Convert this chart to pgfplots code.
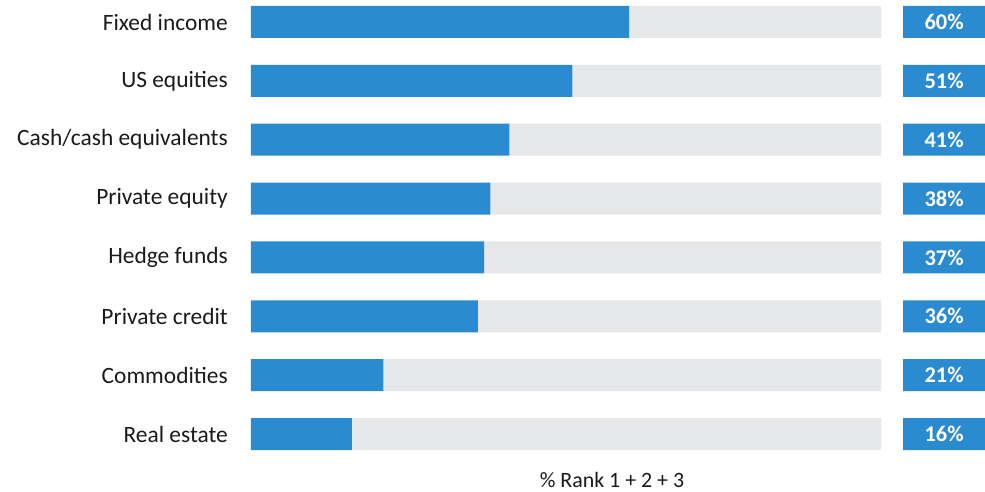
\documentclass[border=0pt]{standalone}
\usepackage{fontspec}
\setmainfont{Carlito}
\usepackage{pgfplots}
\pgfplotsset{compat=1.18}
\definecolor{barblue}{HTML}{2A8BD0}
\definecolor{bargray}{HTML}{E6E7E8}
\definecolor{txt}{HTML}{1A1A1A}
\begin{document}
\fontsize{23.5}{27}\selectfont
\begin{tikzpicture}
\begin{axis}[
  name=ax,
  scale only axis,
  width=734bp, height=447.4bp,
  xbar stacked,
  bar width=32bp,
  xmin=0, xmax=116.5,
  ymin=-0.3, ymax=7.3,
  y dir=reverse,
  enlargelimits=false,
  axis line style={draw=none},
  xtick=\empty,
  ytick={0,...,7},
  yticklabels={Fixed income, US equities, Cash/cash equivalents, Private equity, Hedge funds, Private credit, Commodities, Real estate},
  major tick length=0pt,
  yticklabel style={inner sep=0pt, xshift=-23bp, font=\fontsize{23.5}{27}\selectfont, text=txt},
  xlabel={\% Rank 1 + 2 + 3},
  xlabel style={at={(axis description cs:0.4918,0)}, anchor=center, yshift=-28.5bp, inner sep=0pt, font=\fontsize{22}{26}\selectfont, text=txt},
  clip=false,
]
\addplot[fill=barblue, draw=none] coordinates {(60,0) (51,1) (41,2) (38,3) (37,4) (36,5) (21,6) (16,7)};
\addplot[fill=bargray, draw=none] coordinates {(40,0) (49,1) (59,2) (62,3) (63,4) (64,5) (79,6) (84,7)};
\addplot[fill=none, draw=none] coordinates {(3.5,0) (3.5,1) (3.5,2) (3.5,3) (3.5,4) (3.5,5) (3.5,6) (3.5,7)};
\addplot[fill=barblue, draw=none,
  point meta=explicit symbolic,
  nodes near coords,
  every node near coord/.append style={anchor=center, text=white, font=\bfseries\fontsize{22.5}{26}\selectfont}]
  coordinates {(13,0) [60\%] (13,1) [51\%] (13,2) [41\%] (13,3) [38\%] (13,4) [37\%] (13,5) [36\%] (13,6) [21\%] (13,7) [16\%]};
\end{axis}
\pgfresetboundingbox
\path (ax.south west) ++(-251bp,-40.3bp) rectangle ([yshift=4.3bp]ax.north east);
\end{tikzpicture}
\end{document}
